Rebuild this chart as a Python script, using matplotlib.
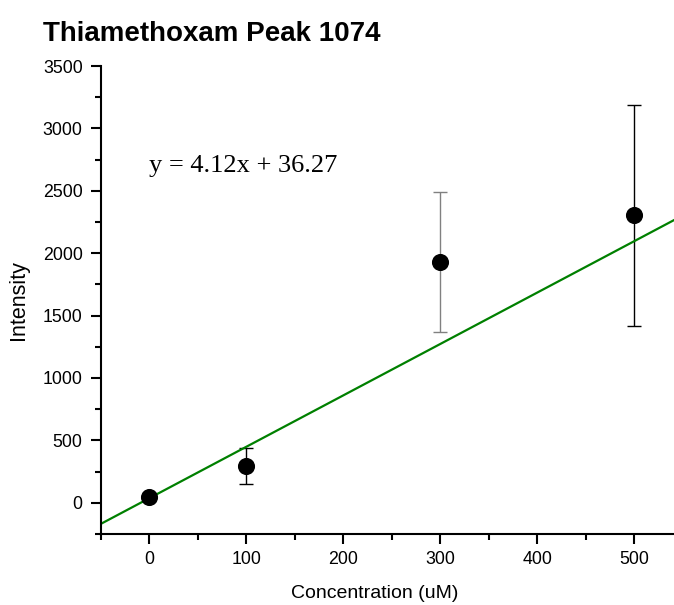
import numpy as np
import matplotlib.pyplot as plt

# concentration series and measured intensities
conc = [0, 100, 300, 500]
intensity = [48, 296, 1927, 2303]
intensity_err = [0, 144, 562, 884]
err_colors = ["black", "black", "gray", "black"]

slope = 4.12
intercept = 36.27

plt.rcParams['font.family'] = ['Liberation Sans', 'DejaVu Sans']

fig = plt.figure(figsize=(6.74, 6.05), dpi=100)
ax = fig.add_axes([0.1494, 0.1174, 0.8506, 0.7735])

# fitted line across the full x range
fit_x = np.array([-50, 541])
ax.plot(fit_x, slope * fit_x + intercept, color='#008000', lw=1.6, zorder=2)

for x, y, e, c in zip(conc, intensity, intensity_err, err_colors):
    if e > 0:
        ax.errorbar(x, y, yerr=e, fmt='none', ecolor=c, elinewidth=1.0,
                    capsize=5, capthick=1.0, zorder=1)
ax.plot(conc, intensity, 'o', color='black', ms=11.3, zorder=3)

ax.set_xlim(-50, 541)
ax.set_ylim(-250, 3500)
ax.set_xticks([0, 100, 200, 300, 400, 500])
ax.set_xticks(np.arange(-50, 541, 50), minor=True)
ax.set_yticks(np.arange(0, 3501, 500))
ax.set_yticks(np.arange(-250, 3501, 250), minor=True)

for side in ['top', 'right']:
    ax.spines[side].set_visible(False)
for side in ['left', 'bottom']:
    ax.spines[side].set_linewidth(1.5)

ax.tick_params(which='major', direction='out', length=7, width=1.5, labelsize=12.8)
ax.tick_params(which='minor', direction='out', length=4, width=1.5)
ax.tick_params(axis='x', pad=5)
ax.tick_params(axis='y', pad=6)

ax.set_xlabel('Concentration (uM)', fontsize=14)
ax.xaxis.set_label_coords(0.478, -0.108)
ax.set_ylabel('Intensity', fontsize=15.5, labelpad=10)

fig.text(0.064, 0.944, 'Thiamethoxam Peak 1074', fontsize=20,
         fontweight='bold', va='center', ha='left')

ax.text(0, 2700, 'y = 4.12x + 36.27', family='Liberation Serif',
        fontsize=19, va='center', ha='left')

fig.savefig('out.png', dpi=100)
